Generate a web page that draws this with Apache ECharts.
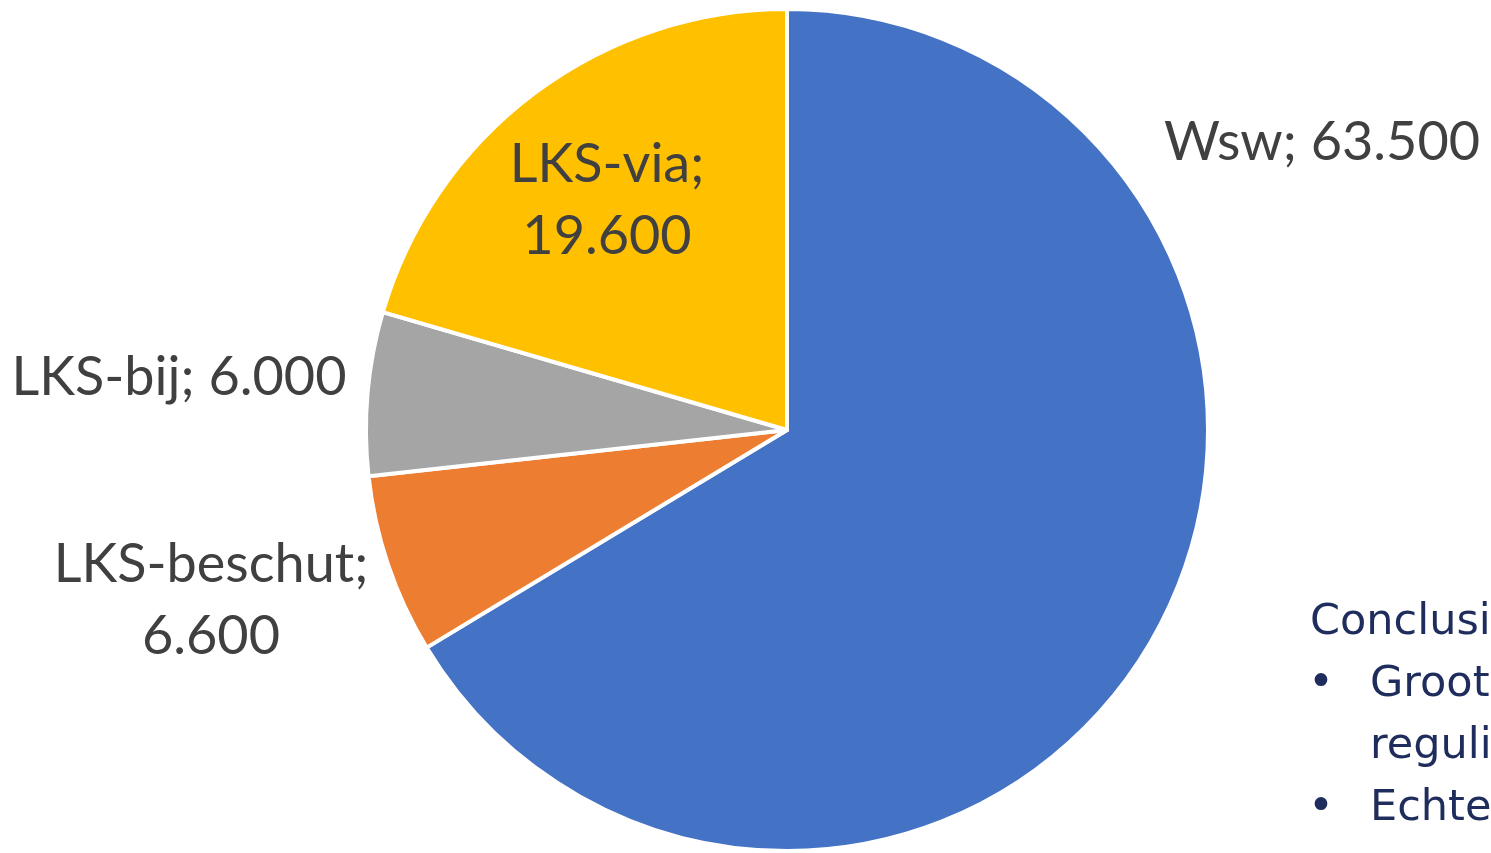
<!DOCTYPE html>
<html>
<head>
<meta charset="utf-8">
<script src="https://cdn.jsdelivr.net/npm/echarts@6/dist/echarts.min.js"></script>
<style>
  html, body { margin: 0; padding: 0; background: #ffffff; }
  #chart { width: 1491px; height: 853px; }
</style>
</head>
<body>
<div id="chart"></div>
<script>
// categories en waarden
var categories = ["Wsw", "LKS-beschut", "LKS-bij", "LKS-via"];
var values = [63500, 6600, 6000, 19600];
var colors = ["#4472C4", "#ED7D31", "#A5A5A5", "#FFC000"];
// label op twee regels of niet
var labelBreak = [false, true, false, true];
// handmatige labelposities (midden van het label)
var labelPos = [[1322, 143], [211, 601], [179, 378], [607, 201]];

var conclusionLines = ["Conclusie", "Groot", "reguli", "Echter"];
var bulletLines = [false, true, false, true];

function fmt(v) {
  return String(v).replace(/\B(?=(\d{3})+(?!\d))/g, ".");
}

var myChart = echarts.init(document.getElementById("chart"));

var pieData = categories.map(function (c, i) {
  return { name: c, value: values[i], itemStyle: { color: colors[i] } };
});

var graphics = [];
conclusionLines.forEach(function (t, i) {
  var y = 623 + i * 62;
  graphics.push({
    type: "text",
    x: i === 0 ? 1310 : 1370,
    y: y,
    silent: true,
    style: {
      text: t,
      fill: "#1F2D5C",
      font: "43px 'DejaVu Sans'",
      align: "left",
      verticalAlign: "middle"
    }
  });
  if (bulletLines[i]) {
    graphics.push({
      type: "text",
      x: 1308,
      y: y,
      silent: true,
      style: {
        text: "•",
        fill: "#1F2D5C",
        font: "44px 'DejaVu Sans'",
        align: "left",
        verticalAlign: "middle"
      }
    });
  }
});

var option = {
  animation: false,
  backgroundColor: "#ffffff",
  graphic: graphics,
  series: [
    {
      type: "pie",
      center: [787, 430],
      radius: 421,
      startAngle: 90,
      clockwise: true,
      avoidLabelOverlap: false,
      itemStyle: {
        borderColor: "#ffffff",
        borderWidth: 4
      },
      label: {
        show: true,
        position: "outside",
        color: "#404040",
        fontFamily: "Lato",
        fontSize: 54,
        lineHeight: 72,
        formatter: function (p) {
          var sep = labelBreak[p.dataIndex] ? ";\n" : "; ";
          return p.name + sep + fmt(p.value);
        }
      },
      labelLine: { show: false },
      labelLayout: function (p) {
        var pos = labelPos[p.dataIndex];
        return {
          x: pos[0],
          y: pos[1],
          align: "center",
          verticalAlign: "middle",
          hideOverlap: false
        };
      },
      emphasis: { disabled: true },
      data: pieData
    }
  ]
};

myChart.setOption(option);
</script>
</body>
</html>
